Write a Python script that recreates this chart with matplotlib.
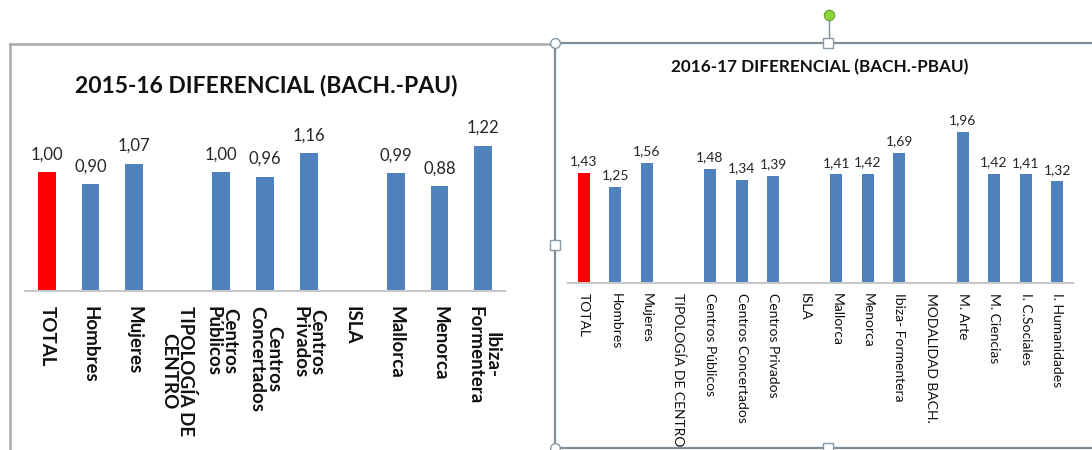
import matplotlib
matplotlib.use("Agg")
import matplotlib.pyplot as plt
from matplotlib.lines import Line2D

# ---- data ----
cats_1516 = ["TOTAL", "Hombres", "Mujeres", "TIPOLOGÍA DE\nCENTRO", "Centros\nPúblicos",
             "Centros\nConcertados", "Centros\nPrivados", "ISLA", "Mallorca", "Menorca",
             "Ibiza-\nFormentera"]
vals_1516 = [1.00, 0.90, 1.07, None, 1.00, 0.96, 1.16, None, 0.99, 0.88, 1.22]

cats_1617 = ["TOTAL", "Hombres", "Mujeres", "TIPOLOGÍA DE CENTRO", "Centros Públicos",
             "Centros Concertados", "Centros Privados", "ISLA", "Mallorca", "Menorca",
             "Ibiza- Formentera", "MODALIDAD BACH.", "M. Arte", "M. Ciencias",
             "I. C.Sociales", "I. Humanidades"]
vals_1617 = [1.43, 1.25, 1.56, None, 1.48, 1.34, 1.39, None, 1.41, 1.42, 1.69, None,
             1.96, 1.42, 1.41, 1.32]

title_1516 = "2015-16 DIFERENCIAL (BACH.-PAU)"
title_1617 = "2016-17 DIFERENCIAL (BACH.-PBAU)"

BLUE = "#4F81BD"
RED = "#FF0000"
FONT = ["Lato", "DejaVu Sans"]
plt.rcParams["font.family"] = FONT

W, H = 1092, 450
fig = plt.figure(figsize=(W / 100, H / 100), dpi=100)
fig.patch.set_facecolor("white")


def fx(px):
    return px / W


def fy(py):
    return 1 - py / H


def draw_chart(ax, cats, vals, ymax, width, lab_size, lab_off, tick_size, tick_pad, bold):
    xs = list(range(len(cats)))
    for i, v in enumerate(vals):
        if v is None:
            continue
        color = RED if cats[i] == "TOTAL" else BLUE
        ax.bar(i, v, width=width, color=color, zorder=2)
        ax.annotate(f"{v:.2f}".replace(".", ","), (i, v), xytext=(0, lab_off),
                    textcoords="offset points", ha="center", va="bottom",
                    fontsize=lab_size, color="#262626")
    ax.set_xlim(-0.5, len(cats) - 0.5)
    ax.set_ylim(0, ymax)
    ax.set_yticks([])
    ax.set_xticks(xs)
    ax.set_xticklabels(cats, rotation=270, ha="center", va="top",
                       fontsize=tick_size, fontweight="bold" if bold else "normal",
                       multialignment="center", linespacing=1.0, color="#111111")
    ax.tick_params(axis="x", length=0, pad=tick_pad)
    for s in ["top", "right", "left"]:
        ax.spines[s].set_visible(False)
    ax.spines["bottom"].set_color("#C8C8C8")
    ax.spines["bottom"].set_linewidth(1.5)
    ax.patch.set_alpha(0)


# left chart: plot area x 25..505, baseline y=291, 119 px per unit
ymax1 = 1.4
ax1 = fig.add_axes([fx(25), fy(291), fx(480), (ymax1 * 119) / H])
draw_chart(ax1, cats_1516, vals_1516, ymax1, 0.41, 12, 7, 13.5, 11, True)
fig.text(fx(266), fy(85), title_1516, ha="center", va="center", fontsize=16.5,
         fontweight="bold", color="#111111")

# right chart: plot area x 568..1073, baseline y=283, 77 px per unit
ymax2 = 2.2
ax2 = fig.add_axes([fx(568), fy(283), fx(505), (ymax2 * 77) / H])
draw_chart(ax2, cats_1617, vals_1617, ymax2, 0.38, 10, 4, 10, 7, False)
fig.text(fx(820), fy(67), title_1617, ha="center", va="center", fontsize=12.3,
         fontweight="bold", color="#111111")

# ---- chart frames / selection handles ----
gray = "#ABABAB"
fig.add_artist(Line2D([fx(10), fx(555)], [fy(44), fy(44)], color=gray, lw=1.8))
fig.add_artist(Line2D([fx(10), fx(10)], [fy(44), fy(452)], color=gray, lw=1.8))

sel = "#7F8C99"
fig.add_artist(Line2D([fx(555), fx(1092)], [fy(43), fy(43)], color=sel, lw=1.6))
fig.add_artist(Line2D([fx(555), fx(555)], [fy(43), fy(448)], color=sel, lw=1.6))
fig.add_artist(Line2D([fx(555), fx(1092)], [fy(448), fy(448)], color=sel, lw=1.6))
fig.add_artist(Line2D([fx(829), fx(829)], [fy(19), fy(40)], color=sel, lw=1))

hedge = "#8A9AA8"
for (px, py) in [(555, 43), (555, 448)]:
    fig.add_artist(Line2D([fx(px)], [fy(py)], marker="o", markersize=7,
                          markerfacecolor="white", markeredgecolor=hedge,
                          markeredgewidth=1, zorder=5))
for (px, py) in [(828, 43), (555, 245), (828, 448)]:
    fig.add_artist(Line2D([fx(px)], [fy(py)], marker="s", markersize=6.5,
                          markerfacecolor="white", markeredgecolor=hedge,
                          markeredgewidth=1, zorder=5))
fig.add_artist(Line2D([fx(829)], [fy(15)], marker="o", markersize=7.5,
                      markerfacecolor="#8CD43C", markeredgecolor="#6AA02A",
                      markeredgewidth=0.8, zorder=5))

fig.savefig("out.png", dpi=100)
